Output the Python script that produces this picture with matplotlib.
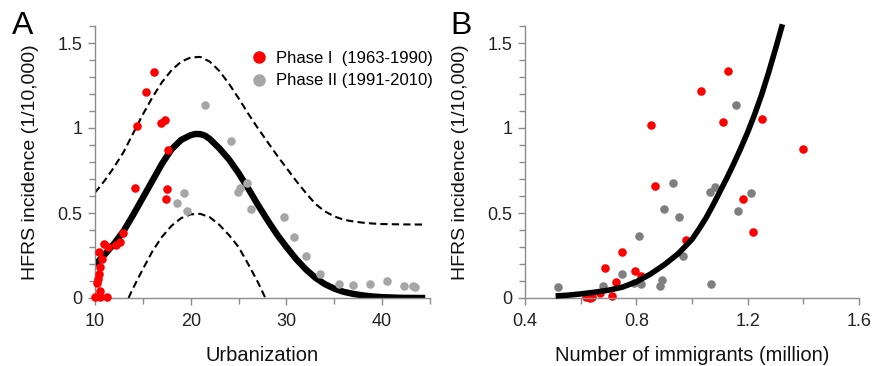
import numpy as np
import matplotlib
matplotlib.use("Agg")
import matplotlib.pyplot as plt
from matplotlib.lines import Line2D
from matplotlib.ticker import MultipleLocator, FixedLocator

plt.rcParams['font.family'] = ['Liberation Sans', 'DejaVu Sans']

# --- panel A: urbanization vs incidence ---
urb_p1 = [16.2, 15.35, 14.35, 16.9, 17.3, 17.6, 14.15, 17.5, 17.4, 12.9, 12.6, 12.2,
          11.4, 10.95, 10.45, 10.7, 10.55, 10.4, 10.3, 10.2, 10.5, 10.05, 10.55, 11.3]
inc_p1 = [1.33, 1.21, 1.01, 1.03, 1.05, 0.87, 0.65, 0.64, 0.58, 0.385, 0.33, 0.31,
          0.30, 0.32, 0.27, 0.23, 0.18, 0.14, 0.11, 0.09, 0.04, 0.005, 0.005, 0.003]

urb_p2 = [21.5, 24.2, 18.6, 19.25, 19.6, 24.95, 25.2, 25.9, 26.35, 29.75, 30.8, 32.0,
          33.5, 35.5, 37.0, 38.7, 40.5, 42.25, 43.25, 43.45]
inc_p2 = [1.135, 0.923, 0.556, 0.615, 0.509, 0.622, 0.65, 0.678, 0.522, 0.478, 0.36, 0.246,
          0.14, 0.085, 0.079, 0.081, 0.10, 0.071, 0.068, 0.062]

fit_x = [10, 11, 12, 13, 14, 15, 16, 17, 18, 19, 20, 20.5, 21, 21.5, 22, 23, 24, 25, 26,
         27, 28, 29, 30, 31, 32, 33, 34, 35, 36, 37, 38, 39, 40, 41, 42, 44.5]
fit_y = [0.195, 0.255, 0.32, 0.395, 0.49, 0.59, 0.69, 0.79, 0.875, 0.93, 0.958, 0.965,
         0.964, 0.955, 0.935, 0.88, 0.815, 0.735, 0.645, 0.55, 0.46, 0.375, 0.30, 0.23,
         0.17, 0.12, 0.082, 0.055, 0.036, 0.024, 0.015, 0.009, 0.005, 0.003, 0.001, 0.0]

upper_x = [10, 11, 12, 13, 14, 15, 16, 17, 18, 19, 20, 21, 22, 23, 24, 25, 26, 27, 28, 29,
           30, 31, 32, 33, 34, 35, 36, 37, 38, 39, 40, 42, 44.3]
upper_y = [0.62, 0.69, 0.77, 0.86, 0.97, 1.08, 1.18, 1.27, 1.34, 1.39, 1.415, 1.418, 1.39,
           1.335, 1.26, 1.175, 1.085, 1.0, 0.92, 0.84, 0.765, 0.69, 0.62, 0.555, 0.51,
           0.48, 0.46, 0.45, 0.443, 0.438, 0.435, 0.433, 0.432]

lower_x = [13.5, 14, 15, 16, 17, 18, 19, 20, 21, 22, 23, 24, 25, 26, 27, 27.8]
lower_y = [0.0, 0.06, 0.17, 0.275, 0.36, 0.425, 0.47, 0.492, 0.495, 0.475, 0.43, 0.37,
           0.30, 0.2, 0.095, 0.0]

# --- panel B: immigrants vs incidence ---
imm_p1 = [0.854, 1.032, 1.128, 1.113, 1.251, 1.398, 0.868, 1.184, 1.22, 0.98, 0.75, 0.688,
          0.796, 0.728, 0.815, 0.669, 0.713, 0.62, 0.632, 0.64]
incb_p1 = [1.016, 1.219, 1.335, 1.037, 1.053, 0.878, 0.657, 0.582, 0.389, 0.339, 0.27, 0.178,
           0.16, 0.095, 0.128, 0.028, 0.01, 0.003, 0.0, 0.004]

imm_p2 = [0.517, 0.681, 0.75, 0.808, 0.791, 0.816, 0.885, 0.894, 0.901, 0.933, 0.955, 0.967,
          1.064, 1.081, 1.069, 1.157, 1.167, 1.213]
incb_p2 = [0.065, 0.072, 0.142, 0.363, 0.087, 0.081, 0.072, 0.106, 0.526, 0.679, 0.479, 0.249,
           0.625, 0.653, 0.083, 1.136, 0.51, 0.62]

immfit_x = [0.51, 0.55, 0.6, 0.65, 0.7, 0.75, 0.8, 0.85, 0.9, 0.95, 1.0, 1.025, 1.05, 1.075,
            1.1, 1.125, 1.15, 1.175, 1.2, 1.225, 1.25, 1.275, 1.3, 1.325]
immfit_y = [0.012, 0.016, 0.024, 0.034, 0.046, 0.064, 0.095, 0.14, 0.195, 0.26, 0.345, 0.405,
            0.47, 0.545, 0.625, 0.705, 0.79, 0.88, 0.975, 1.08, 1.195, 1.325, 1.465, 1.61]

RED = '#ff0000'
GRAY_A = '#a6a6a6'
GRAY_B = '#7f7f7f'
SPINE = '#8c8c8c'

fig = plt.figure(figsize=(8.73, 3.66), dpi=100)
axA = fig.add_axes([95/873, 1-298/366, 335/873, 272/366])
axB = fig.add_axes([525/873, 1-298/366, 334/873, 272/366])


def style(ax):
    for s in ['top', 'right']:
        ax.spines[s].set_visible(False)
    for s in ['left', 'bottom']:
        ax.spines[s].set_color(SPINE)
        ax.spines[s].set_linewidth(1.0)
    ax.set_ylim(0, 1.6)
    ax.yaxis.set_major_locator(FixedLocator([0, 0.5, 1, 1.5]))
    ax.set_yticklabels(['0', '0.5', '1', '1.5'])
    ax.yaxis.set_minor_locator(MultipleLocator(0.1))
    ax.tick_params(axis='both', which='both', direction='out', color=SPINE,
                   labelcolor='#222222', labelsize=13)
    ax.tick_params(axis='both', which='major', length=5, width=1.0)
    ax.tick_params(axis='both', which='minor', length=4, width=1.0)
    ax.tick_params(axis='y', pad=4)
    ax.tick_params(axis='x', pad=6)
    ax.set_ylabel('HFRS incidence (1/10,000)', fontsize=14, labelpad=13, color='#111111')


style(axA)
axA.set_xlim(10, 45)
axA.xaxis.set_major_locator(FixedLocator([10, 20, 30, 40]))
axA.xaxis.set_minor_locator(FixedLocator([15, 25, 35, 45]))
axA.plot(fit_x, fit_y, color='black', lw=4.6, solid_capstyle='butt', zorder=2)
axA.plot(upper_x, upper_y, color='black', lw=1.5, ls=(0, (3.5, 2)), zorder=2)
axA.plot(lower_x, lower_y, color='black', lw=1.5, ls=(0, (3.5, 2)), zorder=2)
axA.scatter(urb_p2, inc_p2, s=38, color=GRAY_A, lw=0, zorder=3, clip_on=False)
axA.scatter(urb_p1, inc_p1, s=38, color=RED, lw=0, zorder=4, clip_on=False)
axA.set_xlabel('Urbanization', fontsize=14.5, labelpad=11, color='#111111')

handles = [Line2D([], [], ls='', marker='o', ms=9, color=RED, mec='none'),
           Line2D([], [], ls='', marker='o', ms=9, color=GRAY_A, mec='none')]
fig.legend(handles, ['Phase I  (1963-1990)', 'Phase II (1991-2010)'],
           loc='upper left', bbox_to_anchor=(251/873, 1-51/366), frameon=False,
           fontsize=12, handlelength=1.0, handletextpad=0.5, labelspacing=0.45,
           borderpad=0, borderaxespad=0)

style(axB)
axB.set_xlim(0.4, 1.6)
axB.xaxis.set_major_locator(FixedLocator([0.4, 0.8, 1.2, 1.6]))
axB.set_xticklabels(['0.4', '0.8', '1.2', '1.6'])
axB.xaxis.set_minor_locator(FixedLocator([0.6, 1.0, 1.4]))
axB.scatter(imm_p2, incb_p2, s=38, color=GRAY_B, lw=0, zorder=2, clip_on=False)
axB.scatter(imm_p1, incb_p1, s=38, color=RED, lw=0, zorder=2, clip_on=False)
axB.plot(immfit_x, immfit_y, color='black', lw=4, solid_capstyle='butt', zorder=3,
         clip_on=False)
axB.set_xlabel('Number of immigrants (million)', fontsize=14.5, labelpad=11, color='#111111')

fig.text(12/873, 1-34/366, 'A', fontsize=23, color='black')
fig.text(450/873, 1-34/366, 'B', fontsize=23, color='black')

fig.savefig('out.png', dpi=100)
